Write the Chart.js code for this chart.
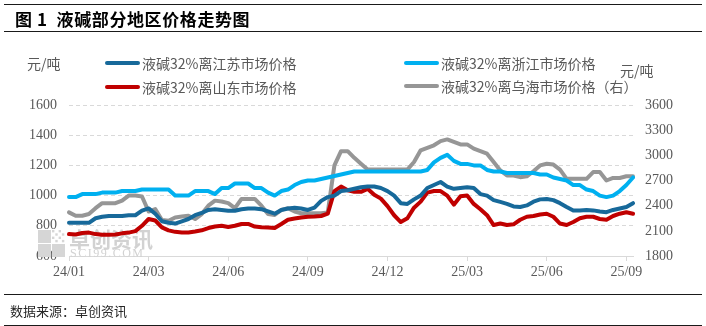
<!DOCTYPE html>
<html>
<head>
<meta charset="utf-8">
<script src="https://cdn.jsdelivr.net/npm/chart.js@4"></script>
<style>
  html, body { margin: 0; padding: 0; background: #fff; }
  #wrap { position: relative; width: 706px; height: 326px; overflow: hidden; font-family: "Noto Sans CJK SC", sans-serif; }
  #chart { position: absolute; left: 0; top: 0; }
  .rule { position: absolute; left: 4px; width: 698px; border-top: 1px solid #1a1a1a; }
  .title { position: absolute; left: 15px; top: 8px; font-size: 17px; line-height: 22px; font-weight: bold; color: #000; letter-spacing: 0.6px; white-space: pre; }
  .foot { position: absolute; left: 10px; top: 302px; font-size: 13px; line-height: 18px; color: #262626; }
  .unit { position: absolute; font-size: 14px; line-height: 16px; color: #595959; }
  .item { position: absolute; font-size: 14px; line-height: 16px; color: #595959; white-space: nowrap; }
  .item i { position: absolute; left: -37px; top: 6px; width: 35px; height: 4px; border-radius: 2px; }
</style>
</head>
<body>
<div id="wrap">
  <canvas id="chart" width="706" height="326"></canvas>
  <div class="rule" style="top:4px"></div>
  <div class="title">图 1  液碱部分地区价格走势图</div>
  <div class="rule" style="top:31px"></div>

  <div class="unit" style="left:27px; top:55px">元/吨</div>
  <div class="unit" style="left:620px; top:62px">元/吨</div>
  <div class="item" style="left:142px; top:55px"><i style="background:#17699a"></i>液碱32%离江苏市场价格</div>
  <div class="item" style="left:142px; top:79px"><i style="background:#c00000"></i>液碱32%离山东市场价格</div>
  <div class="item" style="left:441px; top:55px"><i style="background:#00b0f0"></i>液碱32%离浙江市场价格</div>
  <div class="item" style="left:441px; top:78px"><i style="background:#969696"></i>液碱32%离乌海市场价格（右）</div>

  <div class="rule" style="top:294px"></div>
  <div class="foot">数据来源：卓创资讯</div>
  <div class="rule" style="top:325px"></div>
</div>

<script>
// weekly quotes, 2024/01 to mid 2025/09 (yuan/ton)
const tickLabels = ['24/01', '24/03', '24/06', '24/09', '24/12', '25/03', '25/06', '25/09'];
const tickEvery = 12;

const jiangsu = [
  820, 820, 820, 820, 850, 860, 865, 865, 865, 870,
  870, 900, 915, 880, 830, 820, 815, 830, 845, 870,
  885, 905, 910, 905, 900, 900, 910, 915, 915, 910,
  895, 880, 905, 915, 920, 915, 905, 920, 965, 990,
  1000, 1030, 1035, 1045, 1055, 1060, 1060, 1050, 1030, 1000,
  950, 945, 975, 1000, 1050, 1070, 1090, 1060, 1045, 1050,
  1055, 1050, 1010, 1000, 970, 958, 945, 928, 925, 935,
  960, 975, 978, 970, 950, 925, 902, 902, 905, 902,
  895, 890, 905, 915, 925, 950
];
const zhejiang = [
  990, 990, 1010, 1010, 1010, 1020, 1020, 1020, 1030, 1030,
  1030, 1040, 1040, 1040, 1040, 1040, 1000, 1000, 1000, 1030,
  1030, 1030, 1010, 1050, 1050, 1080, 1080, 1080, 1050, 1050,
  1020, 1000, 1030, 1040, 1070, 1090, 1100, 1100, 1110, 1120,
  1130, 1140, 1150, 1160, 1160, 1160, 1160, 1160, 1160, 1160,
  1160, 1160, 1160, 1160, 1170, 1220, 1250, 1270, 1230, 1210,
  1210, 1200, 1200, 1170, 1160, 1160, 1150, 1150, 1150, 1150,
  1150, 1140, 1140, 1120, 1110, 1100, 1070, 1070, 1040, 1030,
  1000, 990, 1000, 1030, 1070, 1120
];
const shandong = [
  745, 742, 752, 755, 745, 740, 740, 742, 750, 755,
  765, 800, 845, 835, 790, 770, 760, 755, 755, 762,
  770, 785, 795, 800, 792, 800, 812, 812, 795, 790,
  788, 786, 812, 840, 848, 855, 860, 862, 865, 880,
  1030, 1060, 1035, 1025, 1025, 1045, 1005, 980, 930, 870,
  825, 850, 920, 960, 1020, 1030, 1030, 1000, 940, 995,
  1000, 945, 910, 870, 805, 815, 805, 810, 840, 860,
  865, 875, 880, 860, 815, 805, 825, 850, 860, 860,
  845, 840, 865, 880, 890, 880
];
// right axis
const wuhai = [
  2320, 2280, 2280, 2300, 2370, 2430, 2430, 2430, 2460, 2520,
  2520, 2510, 2330, 2360, 2230, 2220, 2260, 2270, 2280, 2240,
  2300, 2400, 2460, 2450, 2430, 2370, 2480, 2480, 2480, 2400,
  2300, 2290, 2350, 2370, 2330, 2310, 2310, 2310, 2310, 2320,
  2880, 3050, 3050, 2970, 2900, 2830, 2830, 2830, 2830, 2830,
  2830, 2830, 2920, 3060, 3090, 3120, 3170, 3190, 3160, 3130,
  3130, 3080, 3050, 3020, 2920, 2820, 2760, 2760, 2740, 2750,
  2810, 2880, 2900, 2890, 2830, 2720, 2720, 2720, 2720, 2800,
  2800, 2700, 2730, 2730, 2750, 2750
];

const labels = jiangsu.map((_, i) => (i % tickEvery === 0 ? tickLabels[i / tickEvery] : ''));

const tickFont = { family: 'Liberation Serif', size: 14 };
const gridColor = '#d9d9d9';
const textColor = '#595959';
const plainNumber = v => String(v);

// faint company mark behind the lines
const watermark = {
  id: 'watermark',
  beforeDatasetsDraw(chart) {
    const c = chart.ctx;
    c.save();
    c.fillStyle = '#d6d6d6';
    c.fillRect(38, 244, 13, 13);
    c.fillRect(52, 244, 13, 13);
    c.fillRect(38, 230, 13, 13);
    for (let r = 0; r < 4; r++) {
      for (let k = 0; k < 4; k++) {
        if ((r + k) % 2 === 0) c.fillRect(52 + k * 3.3, 230 + r * 3.3, 2.4, 2.4);
      }
    }
    c.fillStyle = '#d2d2d2';
    c.font = 'bold 21px "Noto Sans CJK SC"';
    c.textBaseline = 'middle';
    c.fillText('卓创资讯', 69, 239);
    c.font = '12px "Liberation Serif"';
    c.letterSpacing = '1.5px';
    c.fillText('SCI99.COM', 70, 254);
    c.restore();
  }
};

new Chart(document.getElementById('chart'), {
  type: 'line',
  data: {
    labels: labels,
    datasets: [
      { label: '液碱32%离江苏市场价格', data: jiangsu, borderColor: '#17699a', yAxisID: 'y' },
      { label: '液碱32%离浙江市场价格', data: zhejiang, borderColor: '#00b0f0', yAxisID: 'y' },
      { label: '液碱32%离山东市场价格', data: shandong, borderColor: '#c00000', yAxisID: 'y' },
      { label: '液碱32%离乌海市场价格（右）', data: wuhai, borderColor: '#969696', yAxisID: 'y1' }
    ]
  },
  options: {
    responsive: false,
    animation: false,
    layout: { padding: { top: 105, bottom: 46, left: 0, right: 0 } },
    elements: {
      point: { radius: 0 },
      line: { borderWidth: 4, tension: 0, borderJoinStyle: 'round', borderCapStyle: 'round' }
    },
    plugins: { legend: { display: false }, tooltip: { enabled: false } },
    scales: {
      x: {
        offset: false,
        grid: { drawOnChartArea: false, tickLength: 5, color: gridColor },
        border: { color: gridColor },
        ticks: {
          autoSkip: false, maxRotation: 0, padding: 3, color: textColor, font: tickFont,
          callback(v) { return this.getLabelForValue(v) || null; }
        },
        afterFit(s) { s.height = 24; }
      },
      y: {
        position: 'left', min: 600, max: 1600,
        grid: { color: gridColor, drawTicks: false },
        border: { display: false, dash: [4, 3] },
        ticks: { stepSize: 200, padding: 12, color: textColor, font: tickFont, callback: plainNumber },
        afterFit(s) { s.width = 69; }
      },
      y1: {
        position: 'right', min: 1800, max: 3600,
        grid: { drawOnChartArea: false, drawTicks: false },
        border: { display: false },
        ticks: { stepSize: 300, padding: 12, color: textColor, font: tickFont, callback: plainNumber },
        afterFit(s) { s.width = 73; }
      }
    }
  },
  plugins: [watermark]
});
</script>
</body>
</html>
